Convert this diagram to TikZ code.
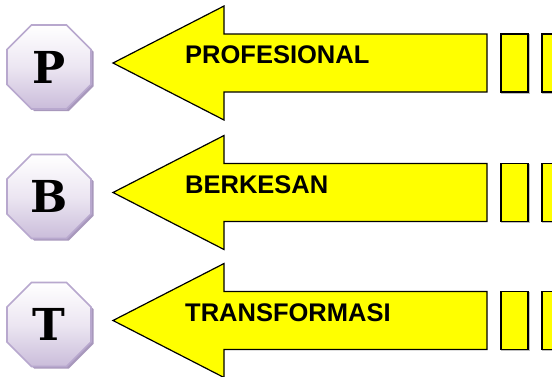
\documentclass[tikz,border=0pt]{standalone}
\usepackage{fontspec}
\setmainfont{Liberation Sans}
\newfontfamily\octfont{DejaVu Serif}
\usetikzlibrary{shapes.geometric}
\definecolor{arrowyellow}{RGB}{255,255,0}
\definecolor{octedge}{RGB}{184,168,206}
\definecolor{octbottom}{RGB}{202,188,218}
\definecolor{octshadow}{RGB}{168,152,188}
\definecolor{boxshadow}{RGB}{190,190,190}
\tikzset{
  octbox/.style={regular polygon, regular polygon sides=8, minimum size=91pt, inner sep=0pt},
  octface/.style={octbox, draw=octedge, line width=1.6pt, top color=white, bottom color=octbottom, middle color={rgb,255:red,236;green,230;blue,242}},
  octshade/.style={octbox, fill=octshadow},
  arrowbody/.style={draw=black, line width=1.2pt, fill=arrowyellow, line join=miter},
  tailbox/.style={draw=black, line width=1.8pt, fill=arrowyellow},
  tailshadow/.style={draw=boxshadow, line width=1.8pt},
  arrowlabel/.style={anchor=west, inner sep=0pt, font=\fontsize{25.5}{28}\selectfont\bfseries},
  octlabel/.style={inner sep=0pt, font=\octfont\fontsize{44}{48}\selectfont\bfseries}
}
\begin{document}
\begin{tikzpicture}[x=1pt,y=-1pt]
\useasboundingbox (0,0) rectangle (552,376);
\fill[white] (0,0) rectangle (552,376);
\foreach \yc/\lab/\txt/\nm in {63/P/PROFESIONAL/p, 192.5/B/BERKESAN/b, 320.5/T/TRANSFORMASI/t}{
  % octagon
  \node[octshade] (sh\nm) at (51.5,\yc+6) {};
  \node[octface] (oct\nm) at (49,\yc+4) {};
  \node[octlabel] (let\nm) at (oct\nm.center) {\lab};
  % arrow
  \draw[arrowbody] (113,\yc) -- (224,\yc-57) -- (224,\yc-29) -- (487,\yc-29)
     -- (487,\yc+29) -- (224,\yc+29) -- (224,\yc+57) -- cycle;
  % tail boxes
  \draw[tailshadow] (502,\yc-28) rectangle (529,\yc+30);
  \draw[tailbox] (501,\yc-29) rectangle (528,\yc+29);
  \draw[tailshadow] (543,\yc-28) rectangle (560,\yc+30);
  \draw[tailbox] (542,\yc-29) rectangle (560,\yc+29);
  \node[arrowlabel] (txt\nm) at (185,\yc-8) {\txt};
}
\end{tikzpicture}
\end{document}
